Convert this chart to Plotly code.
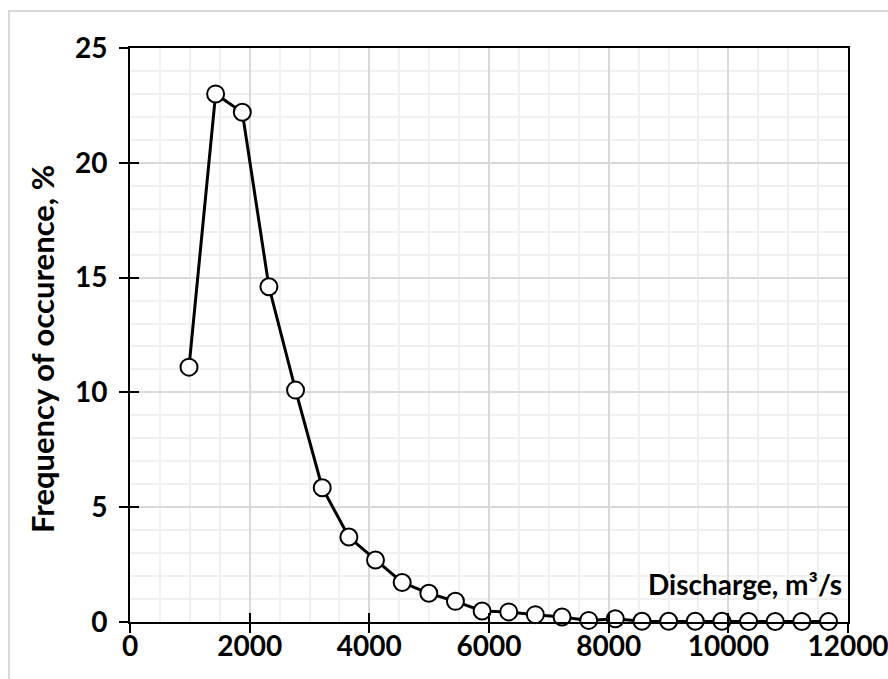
import plotly.graph_objects as go

discharge = [986, 1431, 1877, 2322, 2767, 3213, 3658, 4103, 4549, 4994, 5439, 5885,
             6330, 6775, 7221, 7666, 8111, 8557, 9002, 9447, 9893, 10338, 10783, 11229, 11674]
frequency = [11.1, 23.0, 22.2, 14.6, 10.1, 5.85, 3.7, 2.7, 1.72, 1.25, 0.9, 0.48,
             0.44, 0.32, 0.22, 0.07, 0.14, 0.03, 0.03, 0.03, 0.03, 0.02, 0.02, 0.02, 0.02]

x_title = "Discharge, m³/s"
y_title = "Frequency of occurence, %"

W, H = 888, 679
L, R, T, B = 130, 40, 48, 57
pw, ph = W - L - R, H - T - B

font_family = "Lato, 'Open Sans', sans-serif"

fig = go.Figure()
fig.add_trace(go.Scatter(
    x=discharge, y=frequency, mode="lines+markers",
    line=dict(color="black", width=3),
    marker=dict(size=17, color="white", line=dict(color="black", width=2)),
    cliponaxis=False, showlegend=False, hoverinfo="x+y",
))
# invisible trace to carry the inner tick marks
fig.add_trace(go.Scatter(x=[discharge[0]], y=[frequency[0]], xaxis="x2", yaxis="y2",
                         mode="markers", marker=dict(opacity=0), showlegend=False,
                         hoverinfo="skip"))

axis_common = dict(showline=True, linecolor="black", linewidth=2, mirror=True,
                   ticks="outside", ticklen=9, tickwidth=2, tickcolor="black",
                   gridcolor="#d9d9d9", gridwidth=2, zeroline=False, tickformat="d",
                   automargin=False, ticklabeloverflow="allow",
                   tickfont=dict(family=font_family, size=28, color="black", weight="bold"))

fig.update_layout(
    width=W, height=H, margin=dict(l=L, r=R, t=T, b=B),
    paper_bgcolor="white", plot_bgcolor="white",
    xaxis=dict(range=[0, 12000], dtick=2000, tick0=0, ticklabelstandoff=-11,
               minor=dict(dtick=500, showgrid=True, gridcolor="#f0f0f0", gridwidth=2),
               **axis_common),
    yaxis=dict(range=[0, 25], dtick=5, tick0=0, ticklabelstandoff=6,
               minor=dict(dtick=1, showgrid=True, gridcolor="#f0f0f0", gridwidth=2),
               **axis_common),
    xaxis2=dict(range=[0, 12000], dtick=2000, tick0=0, overlaying="x", anchor="y2",
                showgrid=False, zeroline=False, showticklabels=False, showline=False,
                ticks="inside", ticklen=9, tickwidth=2, tickcolor="black", automargin=False),
    yaxis2=dict(range=[0, 25], dtick=5, tick0=0, overlaying="y", anchor="x2",
                showgrid=False, zeroline=False, showticklabels=False, showline=False,
                ticks="inside", ticklen=9, tickwidth=2, tickcolor="black", automargin=False),
    annotations=[
        dict(text=x_title, xref="paper", yref="paper",
             x=(844 - L) / pw, y=(H - B - 584) / ph, xanchor="right", yanchor="middle",
             showarrow=False,
             font=dict(family=font_family, size=28, color="black", weight="bold")),
        dict(text=y_title, xref="paper", yref="paper",
             x=(42 - L) / pw, y=(H - B - 349) / ph, xanchor="center", yanchor="middle",
             textangle=-90, showarrow=False,
             font=dict(family=font_family, size=31, color="black", weight="bold")),
    ],
    shapes=[
        dict(type="rect", xref="paper", yref="paper", layer="below",
             x0=(9 - L) / pw, x1=(W + 5 - L) / pw,
             y0=(H - B - (H + 5)) / ph, y1=(H - B - 11) / ph,
             line=dict(color="#d9d9d9", width=2), fillcolor="rgba(0,0,0,0)"),
    ],
)

fig.write_html("out.html")
